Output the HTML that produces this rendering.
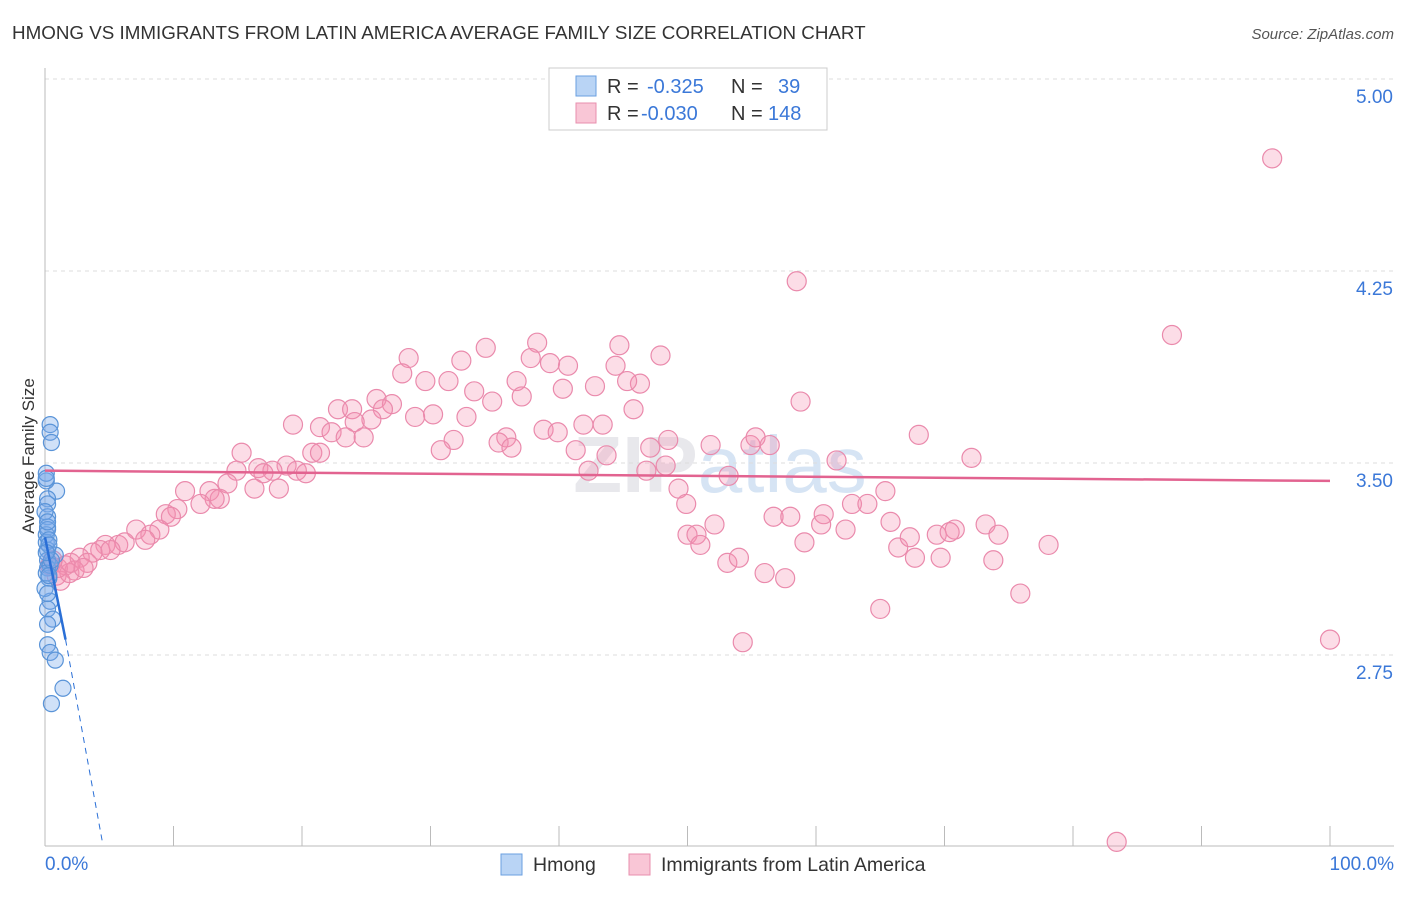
<!DOCTYPE html>
<html><head><meta charset="utf-8"><style>
body{margin:0;background:#fff;font-family:"Liberation Sans",sans-serif;}
svg text{font-family:"Liberation Sans",sans-serif;}
</style></head><body>
<svg id="chart" width="1406" height="892" xmlns="http://www.w3.org/2000/svg">
<text x="12" y="39" font-size="18.8" fill="#333">HMONG VS IMMIGRANTS FROM LATIN AMERICA AVERAGE FAMILY SIZE CORRELATION CHART</text>
<text x="1394" y="39" font-size="15" fill="#555" text-anchor="end" font-style="italic">Source: ZipAtlas.com</text>
<text x="720" y="492" font-size="80" fill="#e8e8ec" text-anchor="middle" font-weight="bold">ZIP<tspan font-weight="normal" fill="#d6e4f4">atlas</tspan></text>
<g id="grid"></g><g id="axes"></g><g id="pink"></g><g id="blue"></g><g id="trends"></g>
<text transform="translate(34,456) rotate(-90)" font-size="17" fill="#333" text-anchor="middle">Average Family Size</text>
<g>
<rect x="549" y="68" width="278" height="62" fill="#fff" stroke="#ccc"/>
<rect x="576" y="76" width="20" height="20" fill="#b9d4f5" stroke="#6a9fe0"/>
<text x="607" y="93" font-size="20" fill="#333">R =</text>
<text x="647" y="93" font-size="20" fill="#3b78d8">-0.325</text>
<text x="731" y="93" font-size="20" fill="#333">N =</text>
<text x="778" y="93" font-size="20" fill="#3b78d8">39</text>
<rect x="576" y="103" width="20" height="20" fill="#f9c6d6" stroke="#e88fae"/>
<text x="607" y="120" font-size="20" fill="#333">R =</text>
<text x="641" y="120" font-size="20" fill="#3b78d8">-0.030</text>
<text x="731" y="120" font-size="20" fill="#333">N =</text>
<text x="768" y="120" font-size="20" fill="#3b78d8">148</text>
</g>
<g>
<rect x="501" y="854" width="21" height="21" fill="#b9d4f5" stroke="#6a9fe0"/>
<text x="533" y="871" font-size="19.5" fill="#333">Hmong</text>
<rect x="629" y="854" width="21" height="21" fill="#f9c6d6" stroke="#e88fae"/>
<text x="661" y="871" font-size="19.5" fill="#333">Immigrants from Latin America</text>
</g>
</svg>
<script>
const yTicks=[5.00,4.25,3.50,2.75];
const yTickLabels=["5.00","4.25","3.50","2.75"];
const xTickLabels=["0.0%","100.0%"];
const pinkX=[95.5,58.5,87.7,100,83.4,54.3,19.3,28.3,34.3,38.3,44.7,47.9,37.8,32.4,40.7,39.3,44.4,27.8,29.6,31.4,36.7,46.3,45.3,42.8,40.3,33.4,37.1,34.8,25.8,27.0,26.3,22.8,23.9,58.8,45.8,30.2,32.8,28.8,25.4,24.1,21.4,43.4,41.9,38.8,39.9,22.3,23.4,24.8,31.8,35.9,35.3,36.3,30.8,15.3,20.8,21.4,48.5,51.8,47.1,41.3,43.7,54.9,55.3,56.4,68.0,72.1,61.6,48.3,46.8,53.2,42.3,14.9,16.6,18.8,19.6,20.3,17.7,17.0,14.2,16.3,18.2,10.9,12.8,13.6,13.2,49.3,65.4,49.9,62.8,64.0,12.1,10.3,9.4,9.8,56.7,58.0,60.6,65.8,60.4,52.1,62.3,73.2,70.8,7.1,8.9,8.2,7.8,50.0,50.7,51.0,59.1,66.4,67.3,69.4,70.4,74.2,78.1,4.7,5.7,6.2,4.3,5.1,3.7,2.7,3.3,1.6,2.3,0.9,1.2,1.9,0.4,53.1,54.0,56.0,57.6,67.7,69.7,73.8,75.9,65.0,0.6,1.0,2.0,3.0];
const pinkY=[4.69,4.21,4.00,2.81,2.02,2.80,3.65,3.91,3.95,3.97,3.96,3.92,3.91,3.90,3.88,3.89,3.88,3.85,3.82,3.82,3.82,3.81,3.82,3.80,3.79,3.78,3.76,3.74,3.75,3.73,3.71,3.71,3.71,3.74,3.71,3.69,3.68,3.68,3.67,3.66,3.64,3.65,3.65,3.63,3.62,3.62,3.60,3.60,3.59,3.60,3.58,3.56,3.55,3.54,3.54,3.54,3.59,3.57,3.56,3.55,3.53,3.57,3.60,3.57,3.61,3.52,3.51,3.49,3.47,3.45,3.47,3.47,3.48,3.49,3.47,3.46,3.47,3.46,3.42,3.40,3.40,3.39,3.39,3.36,3.36,3.40,3.39,3.34,3.34,3.34,3.34,3.32,3.30,3.29,3.29,3.29,3.30,3.27,3.26,3.26,3.24,3.26,3.24,3.24,3.24,3.22,3.20,3.22,3.22,3.18,3.19,3.17,3.21,3.22,3.23,3.22,3.18,3.18,3.18,3.19,3.16,3.16,3.15,3.13,3.11,3.10,3.08,3.06,3.04,3.07,3.10,3.11,3.13,3.07,3.05,3.13,3.13,3.12,2.99,2.93,3.12,3.09,3.11,3.09];
const blueX=[0.4,0.4,0.5,0.9,0.1,0.2,0.2,0.2,0.2,0.1,0.1,0.2,0.8,0.2,0.2,0.3,0.4,0.2,0.6,0.2,0.2,0.4,0.8,1.4,0.5,0.1,0.1,0.0,0.2,0.3,0.4,0.0,0.1,0.3,0.2,0.5,0.1,0.3,0.2];
const blueY=[3.65,3.62,3.58,3.39,3.43,3.36,3.34,3.29,3.25,3.22,3.19,3.16,3.14,3.12,3.09,3.05,2.96,2.93,2.89,2.87,2.79,2.76,2.73,2.62,2.56,3.46,3.44,3.31,3.24,3.20,3.10,3.01,3.07,3.18,3.27,3.12,3.15,3.06,2.99];
const pinkTrend=[3.47,3.43];
const blueTrend=[3.21,2.81,2.01];
const blueTrendX=[0,1.6,4.5];
const NS="http://www.w3.org/2000/svg";
const X=p=>45+p*12.85, Y=v=>79+(5-v)*256;
function mk(par,tag,at){const e=document.createElementNS(NS,tag);for(const k in at)e.setAttribute(k,at[k]);document.getElementById(par).appendChild(e);return e;}
yTicks.forEach((t,i)=>{
 const l=mk('grid','line',{x1:45,x2:1394,y1:Y(t),y2:Y(t),stroke:'#ddd','stroke-dasharray':'4,4'});
 
 
 const tx=mk('grid','text',{x:1393,y:Y(t)+24,'font-size':19,fill:'#3b78d8','text-anchor':'end'});
 tx.textContent=yTickLabels[i];
 
 
});
const ya=mk('axes','line',{x1:45,x2:45,y1:68,y2:846,stroke:'#bbb'});


const xa=mk('axes','line',{x1:45,x2:1394,y1:846,y2:846,stroke:'#bbb'});


for(let i=0;i<=10;i++){
 const t=mk('axes','line',{x1:X(i*10),x2:X(i*10),y1:826,y2:846,stroke:'#bbb'});
 
 
}
[[0,45,'start'],[1,1394,'end']].forEach(([i,x,a])=>{
 const t=mk('axes','text',{x:x,y:870,'font-size':19,fill:'#3b78d8','text-anchor':a});
 t.textContent=xTickLabels[i];
 
 
});
pinkX.forEach((x,i)=>{
 const c=mk('pink','circle',{cx:X(x),cy:Y(pinkY[i]),r:9.5,fill:'rgba(244,143,177,0.3)',stroke:'#ea8aac','stroke-width':1.2});
 
 
});
blueX.forEach((x,i)=>{
 const c=mk('blue','circle',{cx:X(x),cy:Y(blueY[i]),r:8,fill:'rgba(120,170,235,0.35)',stroke:'#5a94d8','stroke-width':1.2});
 
 
});
const pt=mk('trends','line',{x1:X(0),x2:X(100),y1:Y(pinkTrend[0]),y2:Y(pinkTrend[1]),stroke:'#e26390','stroke-width':2.5});


const bt=mk('trends','line',{x1:X(blueTrendX[0]),x2:X(blueTrendX[1]),y1:Y(blueTrend[0]),y2:Y(blueTrend[1]),stroke:'#2a6fd6','stroke-width':2.5});


const bd=mk('trends','line',{x1:X(blueTrendX[1]),x2:X(blueTrendX[2]),y1:Y(blueTrend[1]),y2:Y(blueTrend[2]),stroke:'#2a6fd6','stroke-width':1,'stroke-dasharray':'6,5'});


</script>
</body></html>
